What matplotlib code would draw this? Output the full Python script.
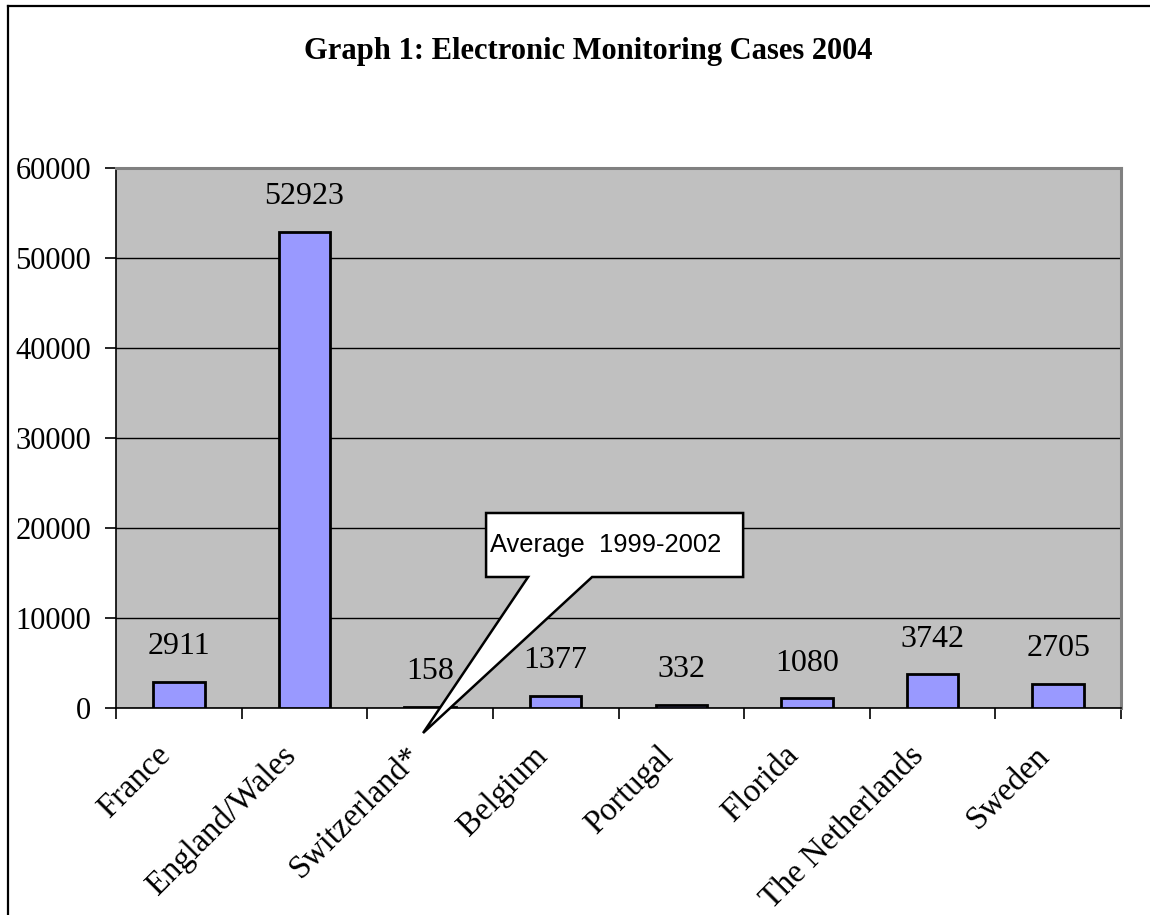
import numpy as np
import matplotlib.pyplot as plt
from matplotlib.patches import Polygon
from matplotlib.lines import Line2D
from matplotlib.transforms import ScaledTranslation

countries = ["France", "England/Wales", "Switzerland*", "Belgium", "Portugal",
             "Florida", "The Netherlands", "Sweden"]
cases = [2911, 52923, 158, 1377, 332, 1080, 3742, 2705]
y_ticks = [0, 10000, 20000, 30000, 40000, 50000, 60000]
title = "Graph 1: Electronic Monitoring Cases 2004"
note = "Average  1999-2002"


def main():
    serif = ["Liberation Serif", "DejaVu Serif"]
    sans = ["Liberation Sans", "DejaVu Sans"]

    fig = plt.figure(figsize=(11.5, 9.15), dpi=100)
    ax = fig.add_axes([116/1150, 1 - 708/915, (1121 - 116)/1150, (708 - 168)/915])

    # outer chart frame (only left and top edges are visible)
    fig.add_artist(Line2D([8/1150, 8/1150], [0, 1 - 6/915], color="black", lw=1.6,
                          transform=fig.transFigure))
    fig.add_artist(Line2D([8/1150, 1], [1 - 6/915, 1 - 6/915], color="black", lw=1.6,
                          transform=fig.transFigure))

    fig.text(588/1150, 1 - 51/915, title, ha="center", va="center",
             family=serif, fontsize=22, fontweight="bold")

    x = np.arange(len(countries))
    ax.set_facecolor("#C0C0C0")
    ax.bar(x, cases, width=0.41, color="#9999FF", edgecolor="black", linewidth=2, zorder=3)
    for xi, v in zip(x, cases):
        ax.text(xi, v + 3900, str(v), ha="center", va="center", family=serif,
                fontsize=23, zorder=4)

    ax.set_xlim(-0.5, len(countries) - 0.5)
    ax.set_ylim(0, 60000)
    ax.set_yticks(y_ticks)
    ax.set_yticklabels([str(t) for t in y_ticks], family=serif, fontsize=22)
    ax.yaxis.grid(True, color="black", lw=1, zorder=1)
    ax.set_axisbelow(True)

    ax.set_xticks(x)
    ax.set_xticklabels(countries, rotation=45, ha="right", va="center",
                       rotation_mode="anchor", family=serif, fontsize=23.5)
    ax.tick_params(axis="x", length=0, pad=31)
    shift = ScaledTranslation(-13/100, 0, fig.dpi_scale_trans)
    for lab in ax.get_xticklabels():
        lab.set_transform(lab.get_transform() + shift)
    ax.set_xticks(np.arange(len(countries) + 1) - 0.5, minor=True)
    ax.tick_params(axis="x", which="minor", length=8, width=1.2, color="black")
    ax.tick_params(axis="y", length=8, width=1.2, pad=10)

    for side in ("top", "right"):
        ax.spines[side].set_color("#808080")
        ax.spines[side].set_linewidth(2.2)
    for side in ("left", "bottom"):
        ax.spines[side].set_color("black")
        ax.spines[side].set_linewidth(1.2)

    # callout box with pointer towards Switzerland*
    def px(u):
        return (u - 116) / 125.6 - 0.5

    def py(v):
        return (708 - v) / 0.009

    pts = [(px(486), py(513)), (px(743), py(513)), (px(743), py(577)),
           (px(592), py(577)), (px(423), py(733)), (px(528), py(577)),
           (px(486), py(577))]
    ax.add_patch(Polygon(pts, closed=True, facecolor="white", edgecolor="black",
                         lw=1.8, clip_on=False, zorder=6))
    ax.text(px(490), py(545), note, ha="left", va="center", family=sans,
            fontsize=18.4, zorder=7)

    fig.savefig("out.png", dpi=100)


if __name__ == '__main__':
    main()
